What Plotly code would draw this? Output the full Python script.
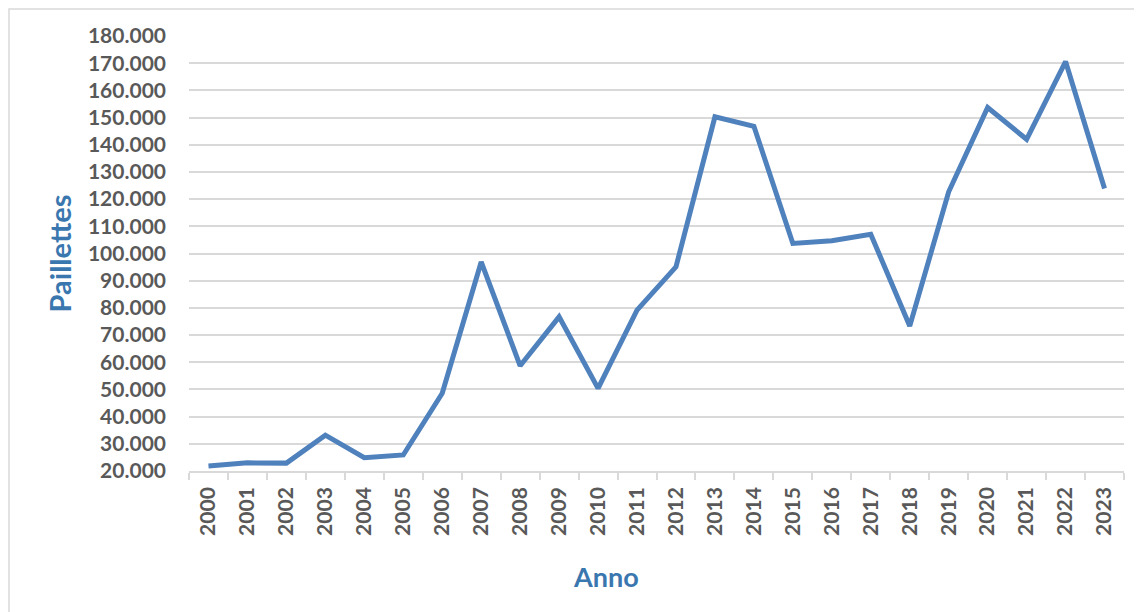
import plotly.graph_objects as go

# Paillettes per anno
anni = [str(a) for a in range(2000, 2024)]
paillettes = [21800, 23000, 22900, 33200, 24900, 25900, 48600, 96900, 58700, 76700,
              50400, 79200, 95100, 150300, 146800, 103700, 104700, 107100, 73300, 122700,
              153700, 142000, 170600, 123900]
y_ticks = list(range(20000, 180001, 10000))
y_labels = [f"{v:,}".replace(",", ".") for v in y_ticks]

font_family = "Lato, 'Open Sans', sans-serif"
tick_color = "#595959"
title_color = "#3B77AF"
grid_color = "#D9D9D9"

# la pagina ha un margine di 8px sul body: figura ridotta di conseguenza
W, H = 1134, 604
L, R, T, B = 181, 18, 28, 141
pw, ph = W - L - R, H - T - B

fig = go.Figure()
fig.add_trace(go.Scatter(x=anni, y=paillettes, mode="lines",
                         line=dict(color="#4F81BD", width=5),
                         showlegend=False, hoverinfo="x+y"))

fig.update_layout(
    width=W, height=H,
    margin=dict(l=L, r=R, t=T, b=B),
    paper_bgcolor="white", plot_bgcolor="white",
    font=dict(family=font_family),
)
fig.update_yaxes(
    range=[20000, 180000], tickvals=y_ticks, ticktext=y_labels,
    tickfont=dict(size=21, color=tick_color, family=font_family, weight="bold"),
    showgrid=True, gridcolor=grid_color, gridwidth=1.5,
    zeroline=False, showline=False, ticks="", ticklabelstandoff=22,
    automargin=False,
    title=dict(text="Paillettes", standoff=7,
               font=dict(size=29, color=title_color, family=font_family, weight="bold")),
)
fig.update_xaxes(
    type="category", tickangle=-90, range=[-0.5, len(anni) - 0.5],
    tickfont=dict(size=21, color=tick_color, family=font_family, weight="bold"),
    showgrid=False, showline=True, linecolor=grid_color, linewidth=1.5,
    ticks="outside", tickson="boundaries", ticklen=7, tickcolor=grid_color, tickwidth=1.5,
    ticklabelstandoff=6, automargin=False,
)
# titolo asse x spostato a sinistra come nell'originale
fig.add_annotation(text="<b>Anno</b>", xref="paper", yref="paper",
                   x=(606 - 8 - L) / pw, y=(H - B - 568) / ph,
                   xanchor="center", yanchor="middle", showarrow=False,
                   font=dict(size=27, color=title_color, family=font_family))
# bordo dell'area del grafico (visibili solo lato sinistro e superiore)
fig.add_shape(type="rect", xref="paper", yref="paper",
              x0=(1 - L) / pw, x1=(W + 30 - L) / pw,
              y0=(H - B - (H + 30)) / ph, y1=(H - B - 1) / ph,
              line=dict(color="#D9D9D9", width=1.5), fillcolor="rgba(0,0,0,0)", layer="below")

fig.write_html("out.html")
